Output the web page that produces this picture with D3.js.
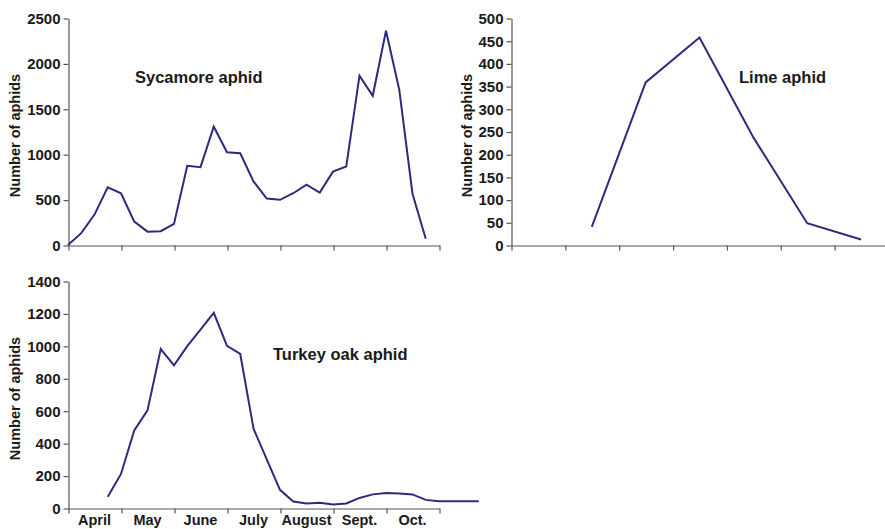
<!DOCTYPE html>
<html>
<head>
<meta charset="utf-8">
<script src="https://cdn.jsdelivr.net/npm/d3@7"></script>
<style>
  html, body { margin: 0; padding: 0; background: #fff; }
  svg { display: block; }
  text { font-family: "Liberation Sans", Arial, sans-serif; font-weight: bold; fill: #1a1a1a; }
</style>
</head>
<body>
<svg id="chart" width="885" height="529"></svg>
<script>
// ---- data ----
const months = ["April", "May", "June", "July", "August", "Sept.", "Oct."];

// x positions in weeks since start of April (4 weeks per month)
const sycamoreWeeks = [0,1,2,3,4,5,6,7,8,9,10,11,12,13,14,15,16,17,18,19,20,21,22,23,24,25,26,27];
const sycamoreValues = [0,130,335,636,570,257,147,152,232,873,857,1303,1022,1010,700,512,498,570,665,578,808,864,1865,1643,2360,1710,565,68];

const limeWeeks = [6,10,14,18,22,26];
const limeValues = [40,358,457,237,48,12];

const turkeyWeeks = [3,4,5,6,7,8,9,10,11,12,13,14,15,16,17,18,19,20,21,22,23,24,25,26,27,28,29,30,31];
const turkeyValues = [70,210,478,602,980,880,998,1100,1204,1000,950,490,300,112,40,28,32,22,28,62,84,93,89,84,50,42,42,42,42];

const sycamoreTicks = [0,500,1000,1500,2000,2500];
const limeTicks = [0,50,100,150,200,250,300,350,400,450,500];
const turkeyTicks = [0,200,400,600,800,1000,1200,1400];
const monthTickWeeks = [0,4,8,12,16,20,24,28];

// ---- drawing ----
const svg = d3.select("#chart");
const lineColor = "#2d2b7f";
const axisColor = "#555";

function panel(cfg) {
  const x = d3.scaleLinear().domain([0, 28]).range([cfg.x0, cfg.x1]);
  const y = d3.scaleLinear().domain([0, cfg.yMax]).range([cfg.yBottom, cfg.yTop]);

  const gx = svg.append("g")
    .attr("transform", `translate(0.5,${cfg.yBottom + 0.5})`)
    .call(d3.axisBottom(x).tickValues(monthTickWeeks).tickFormat("").tickSize(5).tickSizeOuter(0));
  const gy = svg.append("g")
    .attr("transform", `translate(${cfg.x0 + 0.5},0.5)`)
    .call(d3.axisLeft(y).tickValues(cfg.ticks).tickFormat(d3.format("d")).tickSize(5).tickSizeOuter(0).tickPadding(3));
  [gx, gy].forEach(g => {
    g.selectAll("path.domain").attr("stroke", axisColor).attr("stroke-width", 1.2);
    g.selectAll(".tick line").attr("stroke", axisColor).attr("stroke-width", 1.2);
  });
  gy.selectAll(".tick text")
    .attr("font-family", "Liberation Sans, Arial, sans-serif")
    .attr("font-weight", "bold")
    .attr("font-size", 15)
    .attr("fill", "#1a1a1a");

  const line = d3.line().x((d, i) => x(cfg.weeks[i])).y(d => y(d));
  svg.append("path")
    .datum(cfg.values)
    .attr("d", line)
    .attr("fill", "none")
    .attr("stroke", lineColor)
    .attr("stroke-width", 2)
    .attr("stroke-linejoin", "miter");

  svg.append("text")
    .attr("x", cfg.titleX).attr("y", cfg.titleY)
    .attr("font-size", 16.5)
    .text(cfg.title);

  svg.append("text")
    .attr("transform", `translate(${cfg.labelX},${(cfg.yBottom + cfg.yTop) / 2 + 4}) rotate(-90)`)
    .attr("text-anchor", "middle")
    .attr("font-size", 14.5)
    .text("Number of aphids");

  return x;
}

panel({ x0: 68, x1: 439, yBottom: 245, yTop: 18, yMax: 2500, ticks: sycamoreTicks,
        weeks: sycamoreWeeks, values: sycamoreValues,
        title: "Sycamore aphid", titleX: 135, titleY: 83, labelX: 20 });

panel({ x0: 511, x1: 888, yBottom: 245, yTop: 18, yMax: 500, ticks: limeTicks,
        weeks: limeWeeks, values: limeValues,
        title: "Lime aphid", titleX: 739, titleY: 83, labelX: 472 });

const xC = panel({ x0: 68, x1: 439, yBottom: 508, yTop: 281, yMax: 1400, ticks: turkeyTicks,
        weeks: turkeyWeeks, values: turkeyValues,
        title: "Turkey oak aphid", titleX: 273, titleY: 360, labelX: 20 });

svg.selectAll("text.month")
  .data(months)
  .join("text")
  .attr("class", "month")
  .attr("x", (d, i) => xC(i * 4 + 2))
  .attr("y", 525)
  .attr("text-anchor", "middle")
  .attr("font-size", 14.5)
  .text(d => d);
</script>
</body>
</html>
